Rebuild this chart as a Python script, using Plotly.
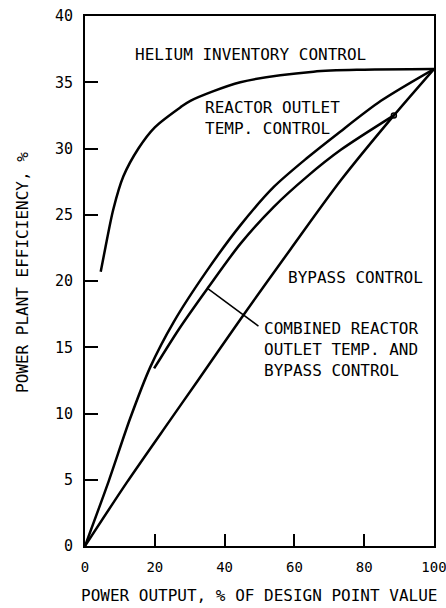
import plotly.graph_objects as go

# Helium inventory control
helium_x = [4.5, 5.75, 8.1, 11, 15.3, 20, 27.3, 30.2, 44.5, 65.5, 80, 100]
helium_y = [20.7, 22.4, 25.4, 27.9, 30.0, 31.6, 33.1, 33.6, 35.0, 35.8, 35.95, 36.0]

# Reactor outlet temp. control
reactor_x = [0, 6.8, 12.9, 18.7, 25.4, 35, 44.5, 54.1, 63.7, 72.3, 84.8, 100]
reactor_y = [0, 4.9, 9.6, 13.5, 16.9, 20.8, 24.2, 27.1, 29.3, 31.1, 33.6, 36.0]

# Bypass control
bypass_x = [0, 12, 24.4, 32.1, 44.5, 58.9, 73.3, 88.5, 100]
bypass_y = [0, 4.8, 9.5, 12.4, 17.1, 22.4, 27.6, 32.5, 36.0]

# Combined reactor outlet temp. and bypass control
combined_x = [19.8, 27, 35, 44.5, 54.1, 63.7, 73.3, 88.5]
combined_y = [13.4, 16.4, 19.4, 22.8, 25.6, 27.9, 29.9, 32.5]

# Leader line for the combined label
leader_x = [49.7, 35.3]
leader_y = [16.6, 19.4]

x_ticks = [0, 20, 40, 60, 80, 100]
y_ticks = [0, 5, 10, 15, 20, 25, 30, 35, 40]

FONT = "DejaVu Sans Mono"
LW = 2.5

fig = go.Figure()
for xs, ys in [(helium_x, helium_y), (reactor_x, reactor_y), (bypass_x, bypass_y), (combined_x, combined_y)]:
    fig.add_trace(go.Scatter(x=xs, y=ys, mode="lines", line=dict(color="black", width=LW, shape="spline", smoothing=0.8),
                             showlegend=False, hoverinfo="skip"))
fig.add_trace(go.Scatter(x=leader_x, y=leader_y, mode="lines", line=dict(color="black", width=1.5),
                         showlegend=False, hoverinfo="skip"))
fig.add_trace(go.Scatter(x=[combined_x[-1]], y=[combined_y[-1]], mode="markers",
                         marker=dict(symbol="circle-open", size=5, color="black", line=dict(width=1.5)),
                         showlegend=False, hoverinfo="skip"))

ann_font = dict(family=FONT, size=16, color="black")
annotations = [
    dict(x=13.8, y=37.1, text="HELIUM INVENTORY CONTROL", xanchor="left", yanchor="middle"),
    dict(x=33.9, y=32.3, text="REACTOR OUTLET<br>TEMP. CONTROL", xanchor="left", yanchor="middle", align="left"),
    dict(x=57.5, y=20.3, text="BYPASS CONTROL", xanchor="left", yanchor="middle"),
    dict(x=50.6, y=14.8, text="COMBINED REACTOR<br>OUTLET TEMP. AND<br>BYPASS CONTROL", xanchor="left",
         yanchor="middle", align="left"),
]
for a in annotations:
    a.update(showarrow=False, font=ann_font, xref="x", yref="y")

# axis titles (paper coords relative to plot area: x 85..434 px, y 16..546 px)
annotations.append(dict(x=(259 - 85) / 349, y=(546 - 595) / 530, xref="paper", yref="paper",
                        yanchor="middle", xanchor="center",
                        text="POWER OUTPUT, % OF DESIGN POINT VALUE", showarrow=False,
                        font=dict(family=FONT, size=16, color="black")))
annotations.append(dict(x=(22 - 85) / 349, y=(546 - 273) / 530, xref="paper", yref="paper",
                        yanchor="middle", xanchor="center",
                        text="POWER PLANT EFFICIENCY, %", textangle=-90, showarrow=False,
                        font=dict(family=FONT, size=16, color="black")))

fig.update_layout(
    width=446, height=608,
    margin=dict(l=85, r=12, t=16, b=62),
    paper_bgcolor="white", plot_bgcolor="white",
    annotations=annotations,
    xaxis=dict(range=[0, 100], tickvals=x_ticks, ticktext=[str(v) for v in x_ticks],
               ticks="inside", ticklen=12, tickwidth=1.5, tickcolor="black",
               showline=True, linecolor="black", linewidth=2, mirror=True,
               showgrid=False, zeroline=False, fixedrange=True,
               ticklabeloverflow="allow", automargin=False,
               tickfont=dict(family=FONT, size=14, color="black"), ticklabelstandoff=7),
    yaxis=dict(range=[0, 40], tickvals=y_ticks, ticktext=[str(v) for v in y_ticks],
               ticks="inside", ticklen=13, tickwidth=1.5, tickcolor="black",
               showline=True, linecolor="black", linewidth=2, mirror=True,
               showgrid=False, zeroline=False, fixedrange=True, automargin=False,
               tickfont=dict(family=FONT, size=15, color="black"), ticklabelstandoff=7),
)

fig.write_html("out.html", config={"displayModeBar": False},
               post_script="document.body.style.margin='0';document.body.style.padding='0';"
                           "document.body.style.overflow='hidden';")
